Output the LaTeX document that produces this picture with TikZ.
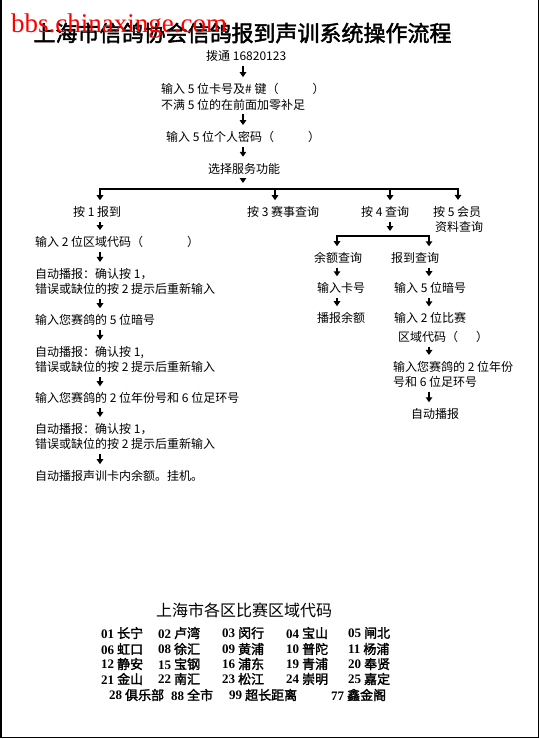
\documentclass[tikz,border=0pt]{standalone}
\usepackage{fontspec}
\setmainfont{Noto Sans CJK SC}
\newfontfamily\heavycjk[FakeBold=2]{Noto Sans CJK SC}
\newfontfamily\wmserif{Liberation Serif}
\usetikzlibrary{arrows.meta}
\newcommand{\zonecode}[2]{{\wmserif\bfseries #1} #2}

\begin{document}
\begin{tikzpicture}[
    x=1pt, y=-1pt,
    txt/.style={anchor=west, inner sep=1pt, align=left, font=\fontsize{12}{15.5}\selectfont},
    arrow/.style={-{Triangle[length=5pt, width=6.5pt]}, line width=1.3pt, shorten <=3pt, shorten >=5pt},
    bus/.style={line width=1.3pt, line cap=rect},
    codebox/.style={anchor=west, inner sep=0pt, font=\heavycjk\fontsize{13}{15}\selectfont},
]
\useasboundingbox (0,0) rectangle (540,739);
\draw[line width=1.2pt] (1,0) -- (1,737.5) -- (538.5,737.5) -- (538.5,0);

% title and watermark
\node[inner sep=0pt, font=\heavycjk\fontsize{22}{22}\selectfont] (title) at (242.5,33) {上海市信鸽协会信鸽报到声训系统操作流程};
\node[anchor=base west, inner sep=0pt, text=red, font=\wmserif\fontsize{27}{27}\selectfont] (wmark) at (11,32) {bbs.chinaxinge.com};

% main column
\node[txt] (dial) at (205,56) {拨通 16820123};
\node[txt] (cardno) at (160,96.75) {输入 5 位卡号及\# 键（\hspace{34pt}）\\不满 5 位的在前面加零补足};
\node[txt] (pin) at (165,137) {输入 5 位个人密码（\hspace{34pt}）};
\node[txt] (menu) at (207,168.5) {选择服务功能};

\coordinate (mainx) at (243,0);
\coordinate (leftx) at (100,0);

\draw[arrow] (dial.south -| mainx) -- (cardno.north -| mainx);
\draw[arrow] (cardno.south -| mainx) -- (pin.north -| mainx);
\draw[arrow] (pin.south -| mainx) -- (menu.north -| mainx);

% service keys
\node[txt] (key1) at (72,212) {按 1 报到};
\node[txt] (key3) at (246,212) {按 3 赛事查询};
\node[txt] (key4) at (360,212) {按 4 查询};
\node[txt] (key5) at (432,219.5) {按 5 会员\\\hspace*{2pt}资料查询};

\coordinate (busm) at (243,189);
\coordinate (bus1) at (100,189);
\coordinate (bus3) at (275,189);
\coordinate (bus4) at (390,189);
\coordinate (bus5) at (458,189);

\draw[arrow, shorten >=6pt] (menu.south -| busm) -- (busm);
\draw[bus] (bus1) -- (bus5);
\draw[arrow, shorten <=0pt] (bus1) -- (key1.north -| bus1);
\draw[arrow, shorten <=0pt] (bus3) -- (key3.north -| bus3);
\draw[arrow, shorten <=0pt] (bus4) -- (key4.north -| bus4);
\draw[arrow, shorten <=0pt] (bus5) -- (key5.north -| bus5);

% key 1: check-in
\node[txt] (area) at (34,242) {输入 2 位区域代码（\hspace{44pt}）};
\node[txt] (confa) at (34,281.5) {自动播报：确认按 1，\\错误或缺位的按 2 提示后重新输入};
\node[txt] (pigeon) at (34,320) {输入您赛鸽的 5 位暗号};
\node[txt] (confb) at (34,359.5) {自动播报：确认按 1,\\错误或缺位的按 2 提示后重新输入};
\node[txt] (ring) at (34,398) {输入您赛鸽的 2 位年份号和 6 位足环号};
\node[txt] (confc) at (34,436.5) {自动播报：确认按 1，\\错误或缺位的按 2 提示后重新输入};
\node[txt] (balance) at (34,476) {自动播报声训卡内余额。挂机。};

\draw[arrow] (key1.south -| leftx) -- (area.north -| leftx);
\draw[arrow] (area.south -| leftx) -- (confa.north -| leftx);
\draw[arrow] (confa.south -| leftx) -- (pigeon.north -| leftx);
\draw[arrow] (pigeon.south -| leftx) -- (confb.north -| leftx);
\draw[arrow] (confb.south -| leftx) -- (ring.north -| leftx);
\draw[arrow] (ring.south -| leftx) -- (confc.north -| leftx);
\draw[arrow] (confc.south -| leftx) -- (balance.north -| leftx);

% key 4: queries
\node[txt] (bal) at (313,258) {余额查询};
\node[txt] (rep) at (390,258) {报到查询};
\node[txt] (cardin) at (316,288) {输入卡号};
\node[txt] (saybal) at (316,318) {播报余额};
\node[txt] (repcode) at (393,288) {输入 5 位暗号};
\node[txt] (reparea) at (393,327.5) {输入 2 位比赛\\[3pt]\hspace*{4pt}区域代码（\hspace{18pt}）};
\node[txt] (repring) at (392,374.5) {输入您赛鸽的 2 位年份\\号和 6 位足环号};
\node[txt] (repsay) at (410,414) {自动播报};

\coordinate (sub4) at (390,236);
\coordinate (subl) at (337,236);
\coordinate (subr) at (429,236);

\draw[arrow] (key4.south -| sub4) -- (sub4);
\draw[bus] (subl) -- (subr);
\draw[arrow, shorten <=0pt] (subl) -- (bal.north -| subl);
\draw[arrow, shorten <=0pt] (subr) -- (rep.north -| subr);
\draw[arrow] (bal.south -| subl) -- (cardin.north -| subl);
\draw[arrow] (cardin.south -| subl) -- (saybal.north -| subl);
\draw[arrow] (rep.south -| subr) -- (repcode.north -| subr);
\draw[arrow] (repcode.south -| subr) -- (reparea.north -| subr);
\draw[arrow] (reparea.south -| subr) -- (repring.north -| subr);
\draw[arrow] (repring.south -| subr) -- (repsay.north -| subr);

% district codes
\node[inner sep=0pt, font=\fontsize{16}{16}\selectfont] (codetitle) at (244,610) {上海市各区比赛区域代码};

\node[codebox] (z01) at (101,633) {\zonecode{01}{长宁}};
\node[codebox] (z02) at (158,633) {\zonecode{02}{卢湾}};
\node[codebox] (z03) at (222,633) {\zonecode{03}{闵行}};
\node[codebox] (z04) at (286,633) {\zonecode{04}{宝山}};
\node[codebox] (z05) at (348,633) {\zonecode{05}{闸北}};

\node[codebox] (z06) at (101,649) {\zonecode{06}{虹口}};
\node[codebox] (z08) at (158,649) {\zonecode{08}{徐汇}};
\node[codebox] (z09) at (222,649) {\zonecode{09}{黄浦}};
\node[codebox] (z10) at (286,649) {\zonecode{10}{普陀}};
\node[codebox] (z11) at (348,649) {\zonecode{11}{杨浦}};

\node[codebox] (z12) at (101,664) {\zonecode{12}{静安}};
\node[codebox] (z15) at (158,664) {\zonecode{15}{宝钢}};
\node[codebox] (z16) at (222,664) {\zonecode{16}{浦东}};
\node[codebox] (z19) at (286,664) {\zonecode{19}{青浦}};
\node[codebox] (z20) at (348,664) {\zonecode{20}{奉贤}};

\node[codebox] (z21) at (101,679) {\zonecode{21}{金山}};
\node[codebox] (z22) at (158,679) {\zonecode{22}{南汇}};
\node[codebox] (z23) at (222,679) {\zonecode{23}{松江}};
\node[codebox] (z24) at (286,679) {\zonecode{24}{崇明}};
\node[codebox] (z25) at (348,679) {\zonecode{25}{嘉定}};

\node[codebox] (z28) at (109,695) {\zonecode{28}{俱乐部}};
\node[codebox] (z88) at (171,695) {\zonecode{88}{全市}};
\node[codebox] (z99) at (229,695) {\zonecode{99}{超长距离}};
\node[codebox] (z77) at (331,695) {\zonecode{77}{鑫金阁}};

\end{tikzpicture}
\end{document}
